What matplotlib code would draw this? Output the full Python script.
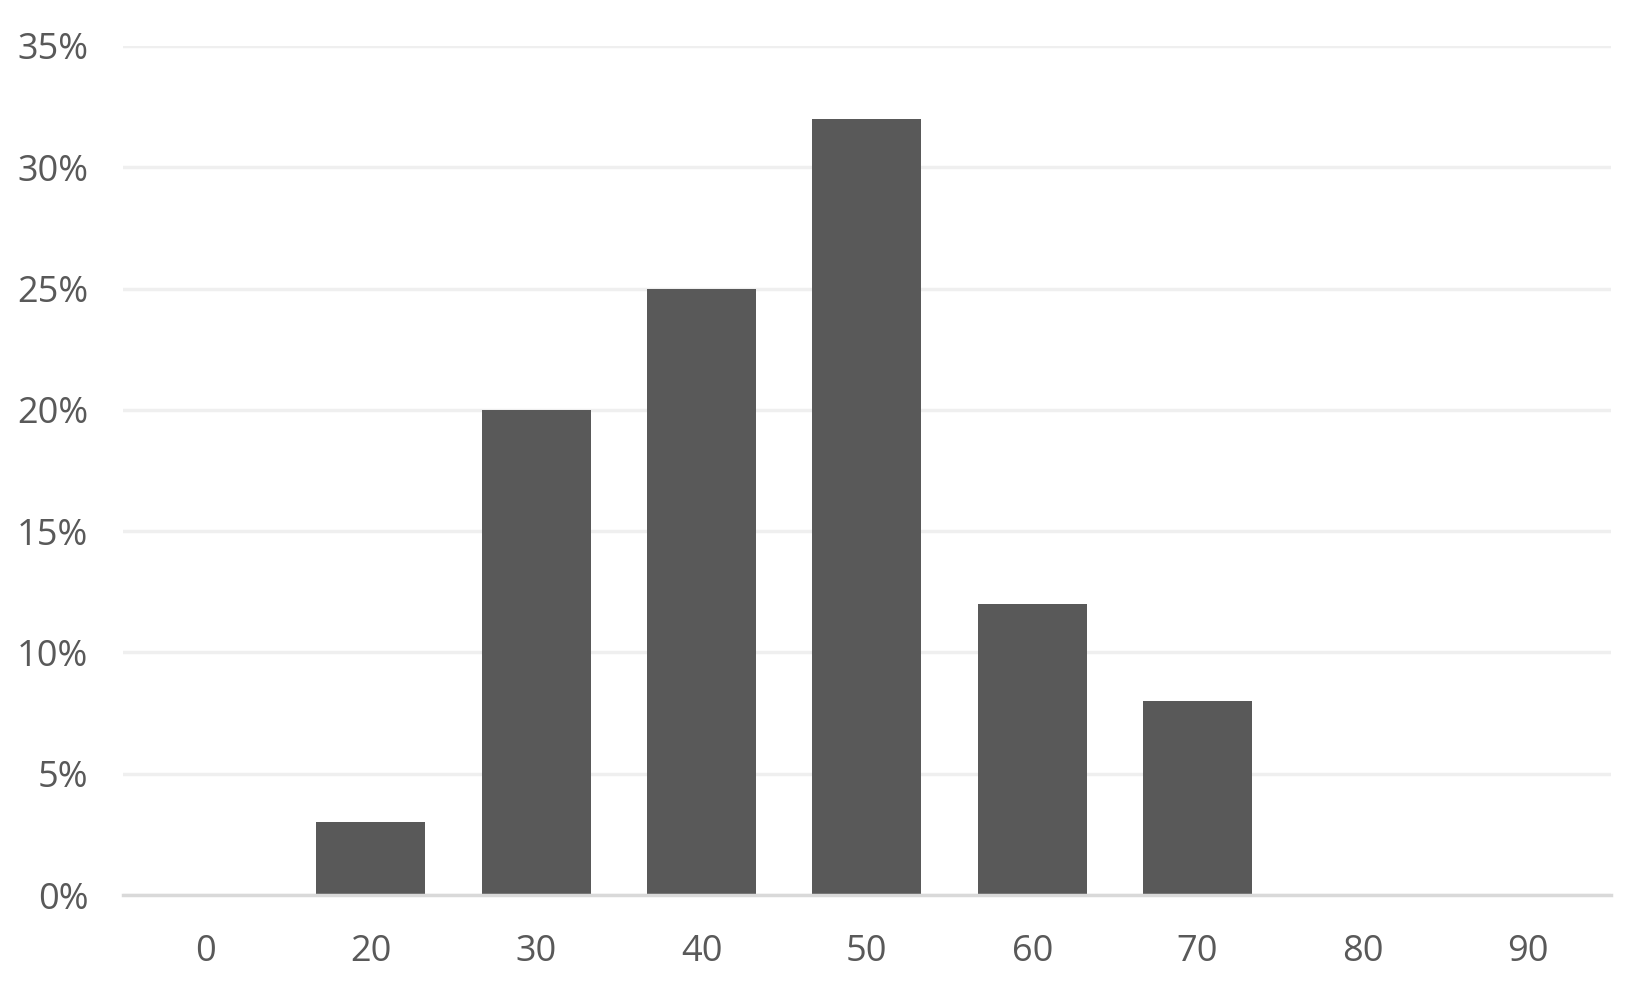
#!/usr/bin/env python3
"""Bar chart of share per category, Excel-like style."""
import matplotlib
matplotlib.use("Agg")
import matplotlib.pyplot as plt
from matplotlib.ticker import PercentFormatter

categories = ["0", "20", "30", "40", "50", "60", "70", "80", "90"]
shares = [0.0, 3.0, 20.0, 25.0, 32.0, 12.0, 8.0, 0.0, 0.0]
y_ticks = [0, 5, 10, 15, 20, 25, 30, 35]

TEXT = "#595959"
BAR = "#595959"


def plot_chart():
    plt.rcParams["font.family"] = ["Open Sans", "DejaVu Sans"]
    fig = plt.figure(figsize=(16.37, 9.99), dpi=100)
    ax = fig.add_axes([0.0751, 0.104, 0.9089, 0.850])

    x = range(len(categories))
    ax.bar(x, shares, width=0.66, color=BAR, zorder=3)

    ax.set_xlim(-0.5, len(categories) - 0.5)
    ax.set_ylim(0, 35)
    ax.set_yticks(y_ticks)
    ax.yaxis.set_major_formatter(PercentFormatter(decimals=0))
    ax.set_xticks(list(x))
    ax.set_xticklabels(categories)

    ax.grid(axis="y", color="#efefef", linewidth=2.5, zorder=0)
    for side in ("top", "right", "left"):
        ax.spines[side].set_visible(False)
    ax.spines["bottom"].set_color("#d9d9d9")
    ax.spines["bottom"].set_linewidth(2.5)
    ax.spines["bottom"].set_zorder(4)

    ax.tick_params(axis="both", length=0, labelsize=26, colors=TEXT)
    ax.tick_params(axis="y", pad=25)
    ax.tick_params(axis="x", pad=28)

    fig.savefig("out.png", dpi=100)


if __name__ == "__main__":
    plot_chart()
